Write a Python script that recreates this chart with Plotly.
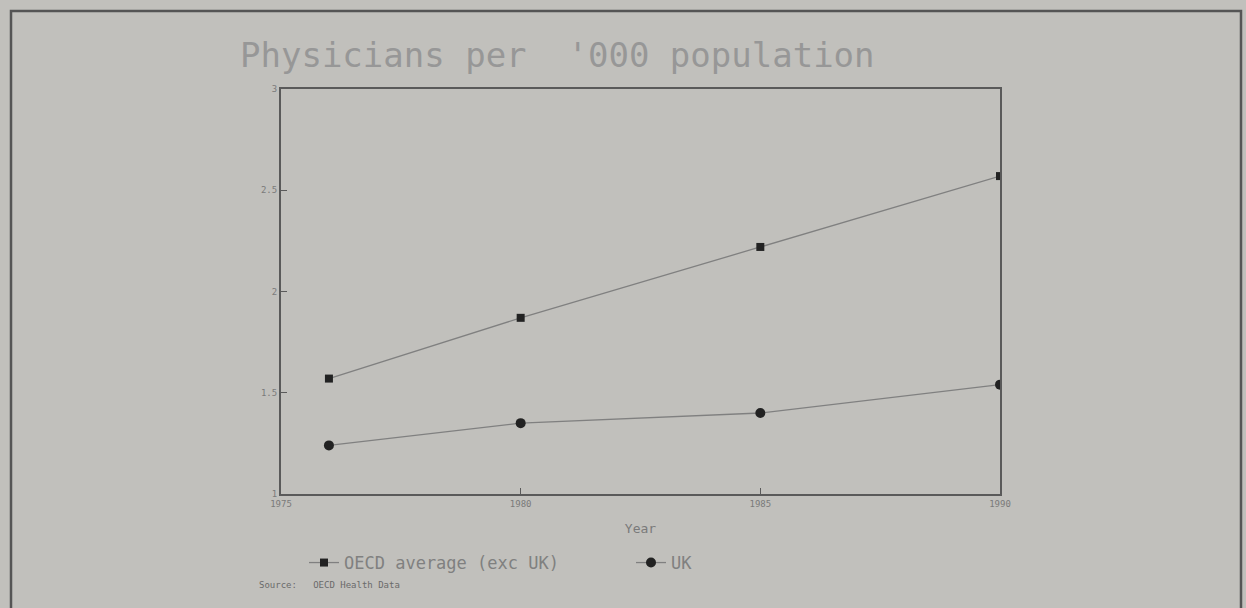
import plotly.graph_objects as go

years = [1976, 1980, 1985, 1990]
oecd_avg = [1.57, 1.87, 2.22, 2.57]
uk = [1.24, 1.35, 1.40, 1.54]
x_ticks = [1975, 1980, 1985, 1990]
y_ticks = [1, 1.5, 2, 2.5, 3]

BG = "#c1c0bc"
AX = "#5a5a5a"
TXT = "#7a7a7a"
MONO = "DejaVu Sans Mono"

fig = go.Figure()
fig.add_trace(go.Scatter(
    x=years, y=oecd_avg, mode="lines+markers", name="OECD average (exc UK)",
    line=dict(color="#808080", width=1.3),
    marker=dict(symbol="square", size=8, color="#222222"),
))
fig.add_trace(go.Scatter(
    x=years, y=uk, mode="lines+markers", name="UK",
    line=dict(color="#808080", width=1.3),
    marker=dict(symbol="circle", size=10, color="#222222"),
))

W, H = 1246, 608
L, R, T, B = 281, 1000, 89, 494
pw, ph = R - L, B - T

def px(xpix):
    return (xpix - L) / pw

def py(ypix):
    return (B - ypix) / ph

fig.update_layout(
    width=W, height=H,
    margin=dict(l=L, r=W - R, t=T, b=H - B, autoexpand=False),
    paper_bgcolor=BG, plot_bgcolor=BG,
    font=dict(family=MONO, color=TXT),
    title=dict(text="Physicians per  '000 population", x=240 / W, xanchor="left",
               y=1 - 55 / H, yanchor="middle",
               font=dict(family=MONO, size=34, color="#979797")),
    showlegend=True,
    legend=dict(orientation="h", x=px(304), xanchor="left", y=py(545), yanchor="top",
                bgcolor="rgba(0,0,0,0)", font=dict(family=MONO, size=17, color="#808080"),
                entrywidth=282, entrywidthmode="pixels", itemwidth=30),
    xaxis=dict(range=[1975, 1990], tickvals=x_ticks, ticktext=[str(v) for v in x_ticks],
               showgrid=False, zeroline=False, showline=True, linecolor=AX, linewidth=2,
               mirror=True, ticks="inside", ticklen=6, tickcolor=AX,
               tickfont=dict(family=MONO, size=9, color=TXT),
               title=dict(text="Year", font=dict(family=MONO, size=13, color=TXT), standoff=16)),
    yaxis=dict(range=[1, 3], tickvals=y_ticks, showgrid=False, zeroline=False,
               showline=True, linecolor=AX, linewidth=2, mirror=True,
               ticks="inside", ticklen=6, tickcolor=AX,
               tickfont=dict(family=MONO, size=9, color=TXT)),
)

fig.add_shape(type="rect", xref="paper", yref="paper",
              x0=px(11), x1=px(1241), y0=py(640), y1=py(11),
              line=dict(color="#555555", width=2.5), fillcolor="rgba(0,0,0,0)", layer="below")

fig.add_annotation(text="Source:   OECD Health Data", xref="paper", yref="paper",
                   x=px(257), y=py(585), xanchor="left", yanchor="middle", showarrow=False,
                   font=dict(family=MONO, size=9, color="#6a6a6a"))

fig.write_html("out.html", config={"displayModeBar": False},
               post_script="document.body.style.margin='0';document.body.style.background='%s';" % BG)
